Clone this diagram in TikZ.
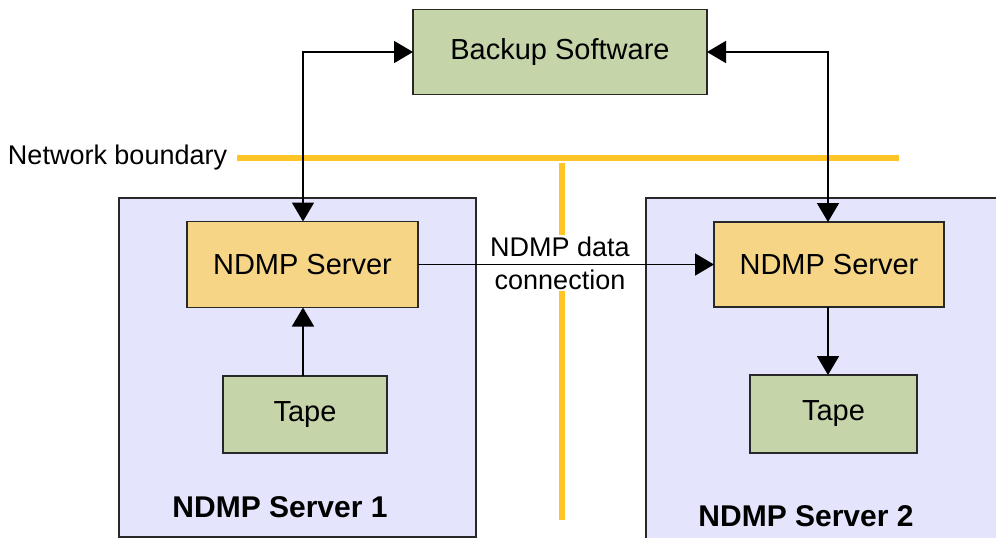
\documentclass[tikz,border=0pt]{standalone}
\usepackage{fontspec}
\setmainfont{Liberation Sans}
\usetikzlibrary{arrows.meta}
\definecolor{boxgreen}{RGB}{197,212,169}
\definecolor{boxorange}{RGB}{246,213,135}
\definecolor{lavender}{RGB}{228,228,252}
\definecolor{netyellow}{RGB}{255,196,37}
\definecolor{edge}{RGB}{40,40,40}
\tikzset{
  every node/.style={inner sep=0pt, outer sep=0pt},
  greenbox/.style={draw=edge, line width=1.6pt, fill=boxgreen, font=\fontsize{29}{33}\selectfont},
  orangebox/.style={draw=edge, line width=1.6pt, fill=boxorange, font=\fontsize{29}{33}\selectfont},
  serverbox/.style={draw=edge, line width=1.6pt, fill=lavender},
  tip/.tip={Triangle[length=19pt,width=22pt]},
  conn/.style={draw=black, line width=1.8pt, -tip},
  biconn/.style={draw=black, line width=1.8pt, tip-tip},
  netline/.style={draw=netyellow, line width=6pt},
  caption/.style={font=\fontsize{30}{34}\selectfont\bfseries},
}
\begin{document}
\begin{tikzpicture}[x=1pt,y=-1pt]
\useasboundingbox[fill=white] (0,0) rectangle (996,538);
% server containers
\node[serverbox, minimum width=357pt, minimum height=339pt, anchor=north west] (srv1) at (119,198) {};
\node[serverbox, minimum width=370pt, minimum height=360pt, anchor=north west] (srv2) at (646,198) {};
% network boundary lines
\coordinate (nbA) at (237,158);
\coordinate (nbB) at (899,158);
\coordinate (nvA) at (562,163);
\coordinate (nvB) at (562,520);
\draw[netline] (nbA) -- (nbB);
\draw[netline] (nvA) -- (nvB);
\node[anchor=base west, font=\fontsize{27}{30}\selectfont] (nblabel) at (8,164) {Network boundary};
% boxes
\node[greenbox, minimum width=294pt, minimum height=85pt] (backup) at (560,52) {Backup Software};
\node[orangebox, minimum width=231pt, minimum height=86pt] (ndmp1) at (302.5,264.5) {NDMP Server};
\node[orangebox, minimum width=230pt, minimum height=85pt] (ndmp2) at (829,264.5) {NDMP Server};
\node[greenbox, minimum width=164pt, minimum height=77pt] (tape1) at (305,414.5) {Tape};
\node[greenbox, minimum width=167pt, minimum height=78pt] (tape2) at (833.5,414) {Tape};
% captions
\node[caption] (cap1) at (280,507) {NDMP Server 1};
\node[caption] (cap2) at (806,516) {NDMP Server 2};
% data connection label (hides the boundary line, not the connector)
\node[fill=white, align=center, inner xsep=3pt, inner ysep=2pt, font=\fontsize{27}{33}\selectfont] (datalabel) at (560,263) {NDMP data\\connection};
% connectors
\draw[biconn] (backup.west) -| (ndmp1.north -| 303,0);
\draw[biconn] (backup.east) -| (ndmp2.north -| 828,0);
\draw[conn] (tape1.north -| 303,0) -- (ndmp1.south -| 303,0);
\draw[conn] (ndmp2.south -| 828,0) -- (tape2.north -| 828,0);
\draw[conn] (ndmp1.east) -- (ndmp2.west);
\end{tikzpicture}
\end{document}
